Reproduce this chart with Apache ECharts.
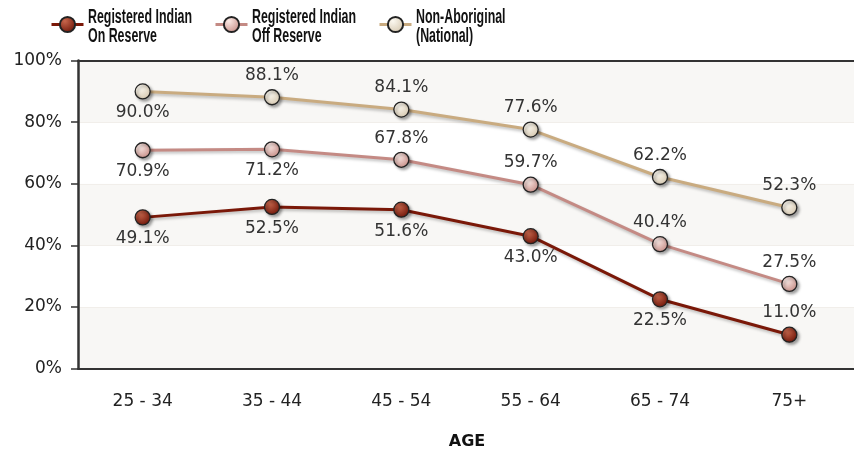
<!DOCTYPE html>
<html>
<head>
<meta charset="utf-8">
<script src="https://cdn.jsdelivr.net/npm/echarts@6/dist/echarts.min.js"></script>
<style>
  html, body { margin: 0; padding: 0; background: #fff; }
  #chart { width: 854px; height: 451px; }
</style>
</head>
<body>
<div id="chart"></div>
<script>
// data
var ageGroups = ["25 - 34", "35 - 44", "45 - 54", "55 - 64", "65 - 74", "75+"];
var onReserve = [49.1, 52.5, 51.6, 43.0, 22.5, 11.0];
var offReserve = [70.9, 71.2, 67.8, 59.7, 40.4, 27.5];
var nonAboriginal = [90.0, 88.1, 84.1, 77.6, 62.2, 52.3];
var yTicks = [0, 20, 40, 60, 80, 100];
var seriesNames = [
  "Registered Indian\nOn Reserve",
  "Registered Indian\nOff Reserve",
  "Non-Aboriginal\n(National)"
];

// where each value label sits relative to its point
var onReservePos = ["bottom", "bottom", "bottom", "bottom", "bottom", "top"];
var offReservePos = ["bottom", "bottom", "top", "top", "top", "top"];
var nonAboriginalPos = ["bottom", "top", "top", "top", "top", "top"];

var chart = echarts.init(document.getElementById("chart"));

function ball(light, dark) {
  return new echarts.graphic.RadialGradient(0.35, 0.3, 0.75, [
    { offset: 0, color: light },
    { offset: 1, color: dark }
  ]);
}

function makeSeries(name, values, positions, lineColor, light, dark, z) {
  return {
    name: name,
    type: "line",
    z: z,
    data: values.map(function (v, i) {
      return {
        value: v,
        label: { position: positions[i] }
      };
    }),
    symbol: "circle",
    symbolSize: 15,
    itemStyle: {
      color: ball(light, dark),
      borderColor: "#222",
      borderWidth: 1.3,
      shadowColor: "rgba(0,0,0,0.35)",
      shadowBlur: 3,
      shadowOffsetX: 2,
      shadowOffsetY: 2
    },
    lineStyle: {
      color: lineColor,
      width: 3,
      shadowColor: "rgba(0,0,0,0.25)",
      shadowBlur: 3,
      shadowOffsetX: 1,
      shadowOffsetY: 2
    },
    label: {
      show: true,
      distance: 5,
      formatter: function (p) { return p.value.toFixed(1) + "%"; },
      fontFamily: "DejaVu Sans",
      fontSize: 17,
      color: "#333"
    },
    emphasis: { disabled: true }
  };
}

// legend: icons from the legend component, the condensed bold names as text next to them
function legendAt(left, name) {
  return {
    left: left,
    top: 15,
    padding: 0,
    itemWidth: 32,
    itemHeight: 19,
    selectedMode: false,
    data: [name],
    lineStyle: { width: 3 },
    formatter: function () { return ""; },
    textStyle: { fontSize: 10 }
  };
}

function legendLabel(x, text) {
  return {
    type: "text",
    x: x,
    y: 8,
    scaleX: 0.62,
    silent: true,
    style: {
      text: text,
      fontFamily: "Liberation Sans",
      fontWeight: "bold",
      fontSize: 20,
      lineHeight: 19,
      fill: "#111",
      verticalAlign: "top"
    }
  };
}

var option = {
  animation: false,
  legend: [
    legendAt(50, seriesNames[0]),
    legendAt(214, seriesNames[1]),
    legendAt(378, seriesNames[2])
  ],
  graphic: [
    legendLabel(88, seriesNames[0]),
    legendLabel(252, seriesNames[1]),
    legendLabel(416, seriesNames[2])
  ],
  title: {
    text: "AGE",
    left: 462,
    top: 429,
    textAlign: "center",
    textStyle: {
      fontFamily: "DejaVu Sans",
      fontWeight: "bold",
      fontSize: 16,
      color: "#111"
    }
  },
  grid: {
    left: 78,
    top: 60.6,
    width: 780,
    height: 308
  },
  xAxis: [
    {
      type: "category",
      data: ageGroups,
      boundaryGap: true,
      axisLine: { lineStyle: { color: "#333", width: 2 } },
      axisTick: { length: 6, lineStyle: { color: "#333", width: 1.5 } },
      axisLabel: {
        margin: 24,
        fontFamily: "DejaVu Sans",
        fontSize: 17,
        color: "#222"
      }
    },
    {
      type: "category",
      position: "top",
      data: ageGroups,
      axisLine: { lineStyle: { color: "#333", width: 2 } },
      axisTick: { show: false },
      axisLabel: { show: false }
    }
  ],
  yAxis: {
    type: "value",
    min: yTicks[0],
    max: yTicks[yTicks.length - 1],
    interval: 20,
    axisLine: { show: true, lineStyle: { color: "#333", width: 2.5 } },
    axisTick: { show: true, length: 7, lineStyle: { color: "#333", width: 1.5 } },
    axisLabel: {
      margin: 16,
      formatter: "{value}%",
      fontFamily: "DejaVu Sans",
      fontSize: 17,
      color: "#222"
    },
    splitLine: { show: true, lineStyle: { color: "#f1eeea", width: 1 } },
    splitArea: {
      show: true,
      areaStyle: { color: ["#f8f7f5", "#ffffff"] }
    }
  },
  series: [
    makeSeries(seriesNames[2], nonAboriginal, nonAboriginalPos, "#c9ab80", "#fbf8f0", "#d6c8b0", 3),
    makeSeries(seriesNames[1], offReserve, offReservePos, "#c48a84", "#fbeae6", "#c68d86", 4),
    makeSeries(seriesNames[0], onReserve, onReservePos, "#7a1808", "#c8664c", "#6e1508", 5)
  ]
};

chart.setOption(option);
</script>
</body>
</html>
